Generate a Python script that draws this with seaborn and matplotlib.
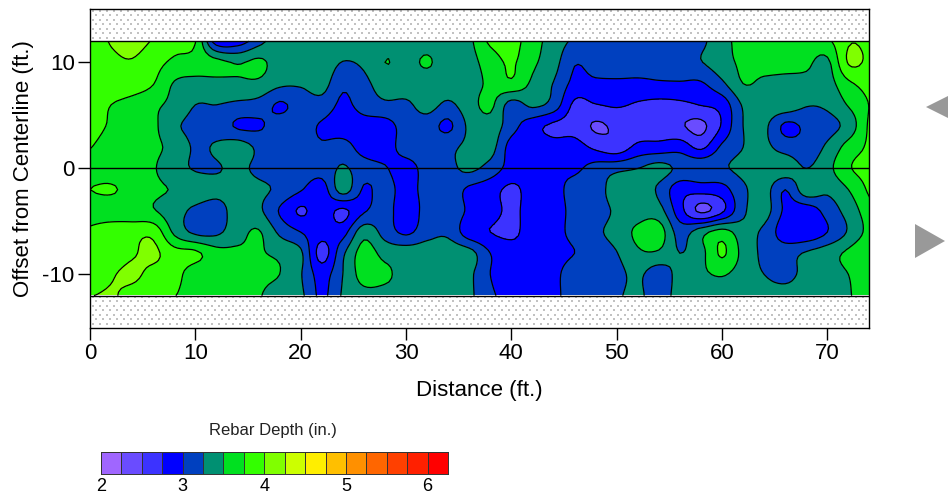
import numpy as np
import matplotlib
matplotlib.use("Agg")
import matplotlib.pyplot as plt
from matplotlib.colors import ListedColormap
from matplotlib.patches import Polygon
import seaborn as sns

distance = list(range(0, 76, 2))
offset = [12, 10, 8, 6, 4, 2, 0, -2, -4, -6, -8, -10, -12]

y12 = [3.85,4.02,4.1,3.98,3.85,3.76,2.85,2.85,3.15,3.4,3.42,3.42,3.42,3.42,3.42,3.42,3.42,3.42,3.45,3.8,3.85,3.6,3.4,3.2,3.1,3.1,3.1,3.1,3.1,3.2,3.4,3.6,3.62,3.62,3.62,3.7,3.98,3.95]
y10 = [3.88,3.95,3.98,3.85,3.7,3.65,3.58,3.48,3.55,3.4,3.4,3.42,3.24,3.3,3.5,3.44,3.52,3.4,3.42,3.62,3.78,3.55,3.35,3.02,3.1,3.15,3.1,3.1,3.2,3.24,3.4,3.55,3.6,3.6,3.55,3.45,4.02,3.95]
y8 = [3.9,3.95,3.9,3.76,3.48,3.42,3.42,3.45,3.45,3.3,3.28,3.35,3.05,3.18,3.38,3.4,3.4,3.4,3.42,3.55,3.7,3.45,3.24,2.93,2.95,2.95,2.95,2.97,2.97,2.97,3.2,3.5,3.45,3.42,3.42,3.4,3.7,3.85]
y6 = [3.9,3.75,3.65,3.55,3.43,3.25,3.25,3.2,3.15,2.97,3.1,3.15,2.95,3.1,3.2,3.2,3.35,3.2,3.4,3.55,3.15,3.3,3.15,2.7,2.74,2.78,2.72,2.68,2.7,2.76,2.85,3.28,3.4,3.42,3.27,3.3,3.52,3.76]
y4 = [3.85,3.72,3.63,3.55,3.3,3.18,3.15,2.97,2.97,3.1,3.1,2.97,2.88,2.9,2.9,3.1,3.12,2.95,3.3,3.4,3.1,2.85,2.7,2.65,2.47,2.55,2.6,2.6,2.53,2.44,2.78,3.25,3.3,2.95,3.05,3.15,3.35,3.8]
y2 = [3.76,3.65,3.6,3.55,3.42,3.22,3.28,3.38,3.2,3.1,3.1,3.03,3.1,2.9,2.9,3.1,3.15,3.2,3.3,3.35,2.9,2.9,2.85,2.85,2.7,2.6,2.82,2.85,2.9,2.7,3.05,3.25,3.3,3.15,3.1,3.3,3.6,3.8]
y0 = [3.65,3.6,3.58,3.52,3.35,3.23,3.23,3.3,3.2,3.15,3.15,3.1,3.28,3.1,3.02,2.9,3.1,3.18,3.3,3.15,2.9,2.85,2.95,2.95,3.1,3.18,3.25,3.35,3.2,3.2,3.22,3.32,3.4,3.4,3.25,3.42,3.72,3.85]
ym2 = [3.75,3.78,3.65,3.55,3.48,3.4,3.32,3.35,3.3,3.2,3.02,2.88,3.36,2.97,3.1,2.9,3.1,3.15,2.95,2.85,2.7,2.85,2.9,3.1,3.12,3.4,3.45,3.2,2.85,2.85,2.9,3.2,3.35,3.0,3.4,3.3,3.5,3.8]
ym4 = [3.62,3.6,3.58,3.52,3.35,3.2,3.15,3.35,3.3,2.98,2.72,2.88,2.7,2.97,3.1,2.85,3.1,3.2,2.95,2.85,2.7,2.85,2.85,3.1,3.12,3.3,3.4,3.35,2.85,2.45,2.7,3.2,3.35,2.95,2.85,3.1,3.35,3.65]
ym6 = [3.8,3.9,3.92,3.92,3.45,3.2,3.2,3.4,3.52,3.2,3.0,2.85,2.9,3.4,3.15,2.95,3.15,3.2,2.85,2.75,2.7,2.85,2.88,3.1,3.2,3.35,3.55,3.62,3.15,3.4,3.6,3.35,3.2,2.85,2.8,3.0,3.28,3.6]
ym8 = [3.85,3.85,3.97,4.05,3.85,3.8,3.6,3.55,3.52,3.45,3.3,2.65,3.2,3.6,3.42,3.4,3.4,3.4,3.35,3.0,2.85,2.8,2.85,3.0,3.1,3.24,3.46,3.46,3.25,3.42,3.78,3.42,3.2,3.15,3.28,3.4,3.55,3.75]
ym10 = [3.8,3.97,4.05,3.92,3.85,3.6,3.6,3.6,3.55,3.5,3.27,2.9,3.25,3.6,3.55,3.4,3.38,3.35,3.3,3.0,2.85,2.85,2.9,3.2,3.1,3.18,3.3,3.1,3.35,3.45,3.52,3.38,3.25,3.15,3.35,3.4,3.5,3.6]
ym12 = [3.99,4.03,3.9,3.8,3.76,3.6,3.6,3.55,3.52,3.35,3.3,2.95,3.28,3.4,3.4,3.4,3.4,3.4,3.3,3.05,2.9,2.85,2.9,3.2,3.15,3.22,3.3,3.12,3.35,3.3,3.35,3.4,3.4,3.42,3.42,3.42,3.48,3.65]

levels = [2 + 0.25 * i for i in range(18)]
band_colors = ["#A066FF", "#6A4CFF", "#3C33FF", "#0000FF", "#0040BF", "#009072",
               "#00E020", "#33FF00", "#80FF00", "#CCFF00", "#FFEE00", "#FFBF00",
               "#FF9000", "#FF6600", "#FF4000", "#FF2000", "#FF0000"]
legend_ticks = [2, 3, 4, 5, 6]


def smooth_axis(a, n, axis):
    """Draw-time cubic (Catmull-Rom) resampling: passes through every read value,
    only rounds the contour polygons between grid nodes."""
    a = np.moveaxis(a, axis, 0)
    p = np.concatenate([2 * a[:1] - a[1:2], a, 2 * a[-1:] - a[-2:-1]])
    t = np.linspace(0, 1, n, endpoint=False).reshape(-1, *([1] * (a.ndim - 1)))
    out = []
    for i in range(a.shape[0] - 1):
        p0, p1, p2, p3 = p[i][None], p[i + 1][None], p[i + 2][None], p[i + 3][None]
        out.append(0.5 * (2 * p1 + (p2 - p0) * t + (2 * p0 - 5 * p1 + 4 * p2 - p3) * t ** 2
                          + (3 * p1 - p0 - 3 * p2 + p3) * t ** 3))
    out.append(a[-1:])
    return np.moveaxis(np.concatenate(out), 0, axis)


sns.set_theme(style="white")
plt.rcParams["font.family"] = ["Liberation Sans", "DejaVu Sans"]

W, H = 948, 500
fig = plt.figure(figsize=(W / 100, H / 100), dpi=100)
ax = fig.add_axes([90 / W, 1 - 327.5 / H, (869.5 - 90) / W, (327.5 - 9.4) / H])

Z = np.array([y12, y10, y8, y6, y4, y2, y0, ym2, ym4, ym6, ym8, ym10, ym12])
n = 6
Zs = smooth_axis(smooth_axis(Z, n, 0), n, 1)
xs = np.linspace(distance[0], distance[-1], (len(distance) - 1) * n + 1)
ys = np.linspace(offset[0], offset[-1], (len(offset) - 1) * n + 1)
X, Y = np.meshgrid(xs, ys)
ax.contourf(X, Y, Zs, levels=levels, colors=band_colors)
ax.contour(X, Y, Zs, levels=levels, colors="black", linewidths=0.9, linestyles="solid")

# stippled "no data" bands
tex = np.ones((32, 780))
for r in range(0, 32, 9):
    tex[r + 1:r + 3, np.r_[[c + i for c in range(2, 776, 7) for i in (0, 1)]]] = 0.76
    tex[r + 5:r + 7, np.r_[[c + i for c in range(5, 776, 7) for i in (0, 1)]]] = 0.76
for lo, hi in [(12, 15), (-15, -12)]:
    ax.imshow(tex, extent=(0, 74, lo, hi), aspect="auto", cmap="gray", vmin=0, vmax=1,
              interpolation="nearest", zorder=1)
for yy in [12, 0, -12]:
    ax.axhline(yy, color="black", lw=1, zorder=3)

ax.set_xlim(0, 74)
ax.set_ylim(-15, 15)
ax.set_xticks([0, 10, 20, 30, 40, 50, 60, 70])
ax.set_yticks([-10, 0, 10])
ax.tick_params(axis="both", direction="out", length=8.5, width=1, color="black",
               labelsize=16, labelcolor="black", bottom=True, left=True, pad=2.5)
ax.set_yticklabels(["-10", "0", "10"])
for s in ax.spines.values():
    s.set_color("black")
    s.set_linewidth(1)
ax.set_xlabel("Distance (ft.)", fontsize=16, color="black", labelpad=11.5)
ax.set_ylabel("Offset from Centerline (ft.)", fontsize=16, color="black", labelpad=6)

# legend strip
cax = fig.add_axes([101 / W, 1 - 474 / H, (448 - 101) / W, 22 / H])
strip = np.arange(len(band_colors)).reshape(1, -1)
sns.heatmap(strip, ax=cax, cmap=ListedColormap(band_colors), cbar=False,
            linewidths=0.5, linecolor="#333333", xticklabels=False, yticklabels=False)
for s in cax.spines.values():
    s.set_visible(True)
    s.set_color("#333333")
    s.set_linewidth(0.7)
cax.set_xticks([(t - 2) / 0.25 for t in legend_ticks])
cax.set_xticklabels([str(t) for t in legend_ticks], fontsize=13, color="black")
cax.tick_params(axis="x", length=0, pad=3)
cax.set_yticks([])
fig.text(272.5 / W, 1 - 430 / H, "Rebar Depth (in.)", ha="center", va="center", fontsize=12, color="#222222")

# navigation arrows
for pts in ([(926, 107), (960, 90), (960, 124)], [(945, 241), (915, 224), (915, 258)]):
    fig.add_artist(Polygon([(x / W, 1 - y / H) for x, y in pts], closed=True,
                           transform=fig.transFigure, facecolor="#999999", edgecolor="none"))

fig.savefig("out.png", dpi=100, facecolor="white")
